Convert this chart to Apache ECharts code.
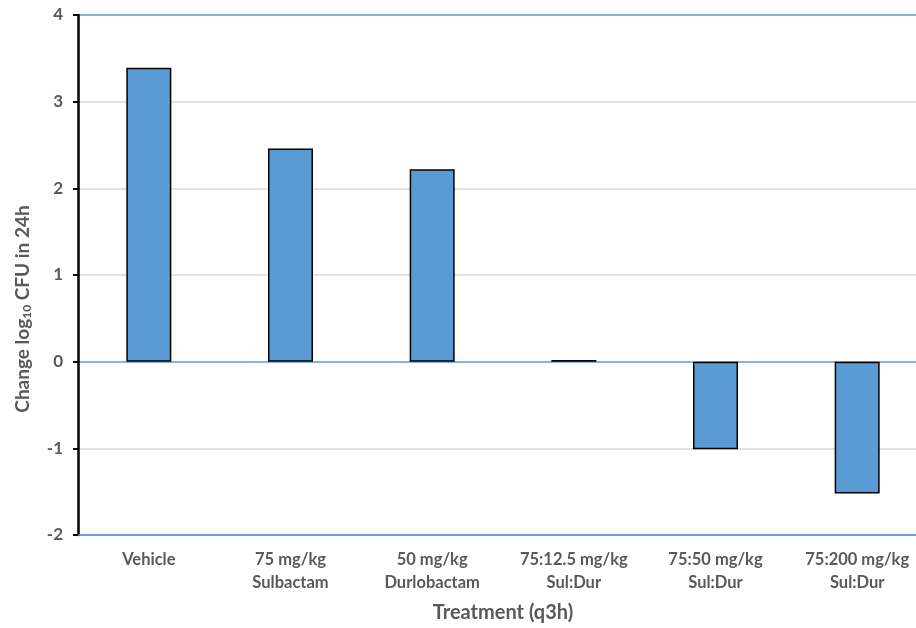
<!DOCTYPE html>
<html>
<head>
<meta charset="utf-8">
<script src="https://cdn.jsdelivr.net/npm/echarts@6/dist/echarts.min.js"></script>
<style>
  html, body { margin: 0; padding: 0; background: #fff; overflow: hidden; }
  #chart { width: 930px; height: 628px; }
</style>
</head>
<body>
<div id="chart"></div>
<script>
// Treatment groups (q3h dosing) and change in bacterial burden over 24 h
const categories = [
  'Vehicle',
  '75 mg/kg\nSulbactam',
  '50 mg/kg\nDurlobactam',
  '75:12.5 mg/kg\nSul:Dur',
  '75:50 mg/kg\nSul:Dur',
  '75:200 mg/kg\nSul:Dur'
];
const changeLog10CFU = [3.39, 2.46, 2.22, 0.02, -1.01, -1.52];
const yTicks = [-2, -1, 0, 1, 2, 3, 4];

const FONT = 'Lato, "Open Sans", sans-serif';
const TEXT = '#595959';
const BLUE = '#5b9bd5';
const GRID = '#d9d9d9';

// gridline colours: blue at the bottom, the zero line and the top
const splitColors = yTicks.map(v => (v === 0 || v === yTicks[0] || v === yTicks[yTicks.length - 1]) ? BLUE : GRID);

const chart = echarts.init(document.getElementById('chart'), null, { renderer: 'canvas' });
chart.setOption({
  animation: false,
  backgroundColor: '#ffffff',
  grid: { left: 78, top: 15, right: 2, height: 520, containLabel: false, outerBoundsMode: 'none' },
  xAxis: {
    type: 'category',
    data: categories,
    axisLine: { onZero: false, lineStyle: { color: BLUE, width: 1.5 } },
    axisTick: { show: false },
    axisLabel: {
      interval: 0, margin: 13, color: TEXT, fontFamily: FONT,
      fontWeight: 'bold', fontSize: 16.5, lineHeight: 23
    },
    name: 'Treatment (q3h)',
    nameLocation: 'middle',
    nameGap: 68,
    nameTextStyle: { color: TEXT, fontFamily: FONT, fontWeight: 'bold', fontSize: 20 }
  },
  yAxis: {
    type: 'value',
    min: yTicks[0],
    max: yTicks[yTicks.length - 1],
    interval: 1,
    axisLine: { show: true, lineStyle: { color: '#000', width: 2.5 } },
    axisTick: { show: true, inside: false, length: 5, lineStyle: { color: '#000', width: 2 } },
    axisLabel: { margin: 15, color: TEXT, fontFamily: FONT, fontWeight: 'bold', fontSize: 17 },
    splitLine: { show: true, lineStyle: { color: splitColors, width: 1.5 } }
  },
  graphic: [{
    type: 'text',
    x: 23,
    y: 309,
    rotation: Math.PI / 2,
    style: {
      text: '{a|Change log}{s|10}{a| CFU in 24h}',
      align: 'center',
      verticalAlign: 'middle',
      rich: {
        a: { fill: TEXT, fontFamily: FONT, fontWeight: 'bold', fontSize: 19 },
        s: { fill: TEXT, fontFamily: FONT, fontWeight: 'bold', fontSize: 12, padding: [8, 0, 0, 0] }
      }
    }
  }],
  series: [{
    type: 'bar',
    data: changeLog10CFU,
    barWidth: 45,
    itemStyle: { color: BLUE, borderColor: '#000', borderWidth: 1.5 }
  }]
});
</script>
</body>
</html>
